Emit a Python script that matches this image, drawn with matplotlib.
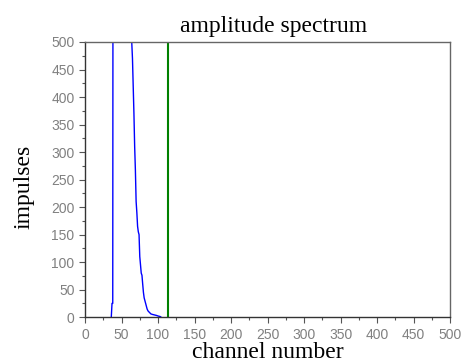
import numpy as np
import matplotlib
matplotlib.use("Agg")
from matplotlib import pyplot as plt
from matplotlib.ticker import MultipleLocator

# spectrum (channel, impulses); peak is clipped above 500
channels = [36, 37, 38, 39, 45, 50, 55, 60, 63, 64, 65, 66, 67, 68, 69, 70, 71, 72, 73,
            74, 75, 76, 77, 78, 79, 80, 81, 82, 83, 84, 85, 86, 87, 88, 90, 92, 95, 98, 100, 103, 104]
impulses = [0, 25, 25, 2000, 3000, 3200, 2800, 1500, 700, 500, 470, 420, 370, 310, 267, 210, 190, 165, 155,
            150, 110, 95, 80, 76, 60, 45, 35, 30, 25, 20, 15, 12, 10, 9, 6, 5, 4, 3, 2, 1, 0]
marker_channel = 113

fig = plt.figure(figsize=(4.67, 3.62), dpi=100)
ax = fig.add_axes([0.182, 0.124, 0.782, 0.76])

ax.plot(channels, impulses, color='blue', lw=1.0)
ax.axvline(marker_channel, color='#008000', lw=1.5)

ax.set_xlim(0, 500)
ax.set_ylim(0, 500)
ax.xaxis.set_major_locator(MultipleLocator(50))
ax.yaxis.set_major_locator(MultipleLocator(50))
ax.xaxis.set_minor_locator(MultipleLocator(25))
ax.yaxis.set_minor_locator(MultipleLocator(25))
ax.tick_params(which='both', direction='out', colors='#555555', labelcolor='#808080',
               labelsize=10, width=0.8)
ax.tick_params(which='major', length=4)
ax.tick_params(which='minor', length=2)
for lbl in ax.get_xticklabels() + ax.get_yticklabels():
    lbl.set_family('Liberation Sans')
for s in ax.spines.values():
    s.set_color('#666666')
    s.set_linewidth(1.0)
ax.spines['left'].set_color('#333333')
ax.spines['bottom'].set_color('#333333')

ax.set_title('amplitude spectrum', family='Liberation Serif', fontsize=17, pad=7, x=0.515)
ax.set_xlabel('channel number', family='Liberation Serif', fontsize=17, labelpad=0)
ax.set_ylabel('impulses', family='Liberation Serif', fontsize=17)
ax.yaxis.set_label_coords(-0.138, 0.475)

fig.savefig('out.png', dpi=100)
